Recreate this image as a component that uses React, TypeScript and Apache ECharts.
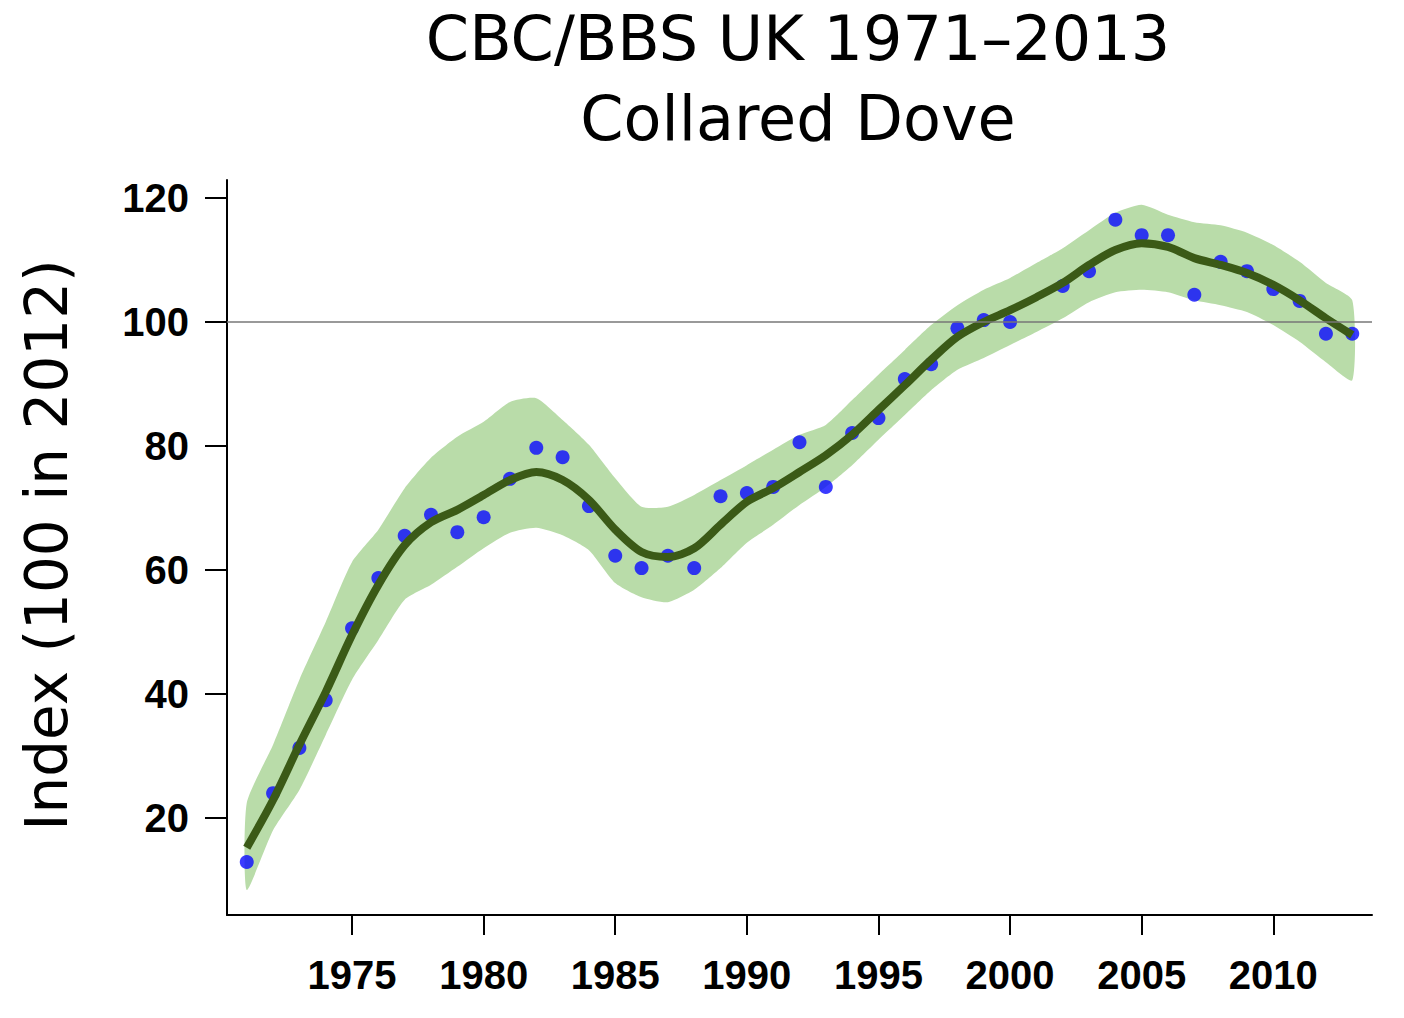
import React, { useEffect, useRef } from "react";
import * as echarts from "echarts";

const years = Array.from({ length: 43 }, (_, i) => 1971 + i);
const points: (number | null)[] = [12.9,24.0,31.3,39.0,50.6,58.7,65.5,68.9,66.1,68.5,74.7,79.7,78.2,70.3,62.3,60.3,62.3,60.3,71.9,72.4,73.4,80.6,73.4,82.1,84.5,90.8,93.2,99.0,100.3,100,null,105.8,108.2,116.5,114.0,114.0,104.4,109.7,108.2,105.3,103.4,98.1,98.1];
const trend = [15.2,22.9,31.8,40.3,49.5,57.6,64,67.7,69.7,72.1,74.5,75.8,74.5,71.3,66.5,62.9,62.1,63.5,67.3,71,73.2,75.8,78.5,81.8,85.8,89.8,93.9,97.6,100,101.9,104,106.3,109.2,111.6,112.7,112.1,110.3,109.2,107.9,106,103.5,100.6,97.9];
const upper = [22.4,31.8,42.3,51.6,61.3,66.5,73.2,78.1,81.5,83.9,87.1,87.7,84.2,80.2,74.8,70.2,70.2,72.1,74.5,76.9,79.4,81.8,83.4,87.4,91.5,95.5,99.5,102.7,105.2,107.1,109.5,111.9,114.8,117.6,118.9,117.3,116.1,115.6,114.4,112.4,109.7,106.3,103.5];
const lower = [8.4,18,24.5,33.4,42.3,48.7,55.2,57.6,60.5,63.5,66,66.8,65.6,63.2,57.9,55.6,54.8,56.8,60.3,64.4,67.3,70.5,73.4,76.9,81,85,89,92.3,94.2,96.3,98.4,100.6,103.2,104.8,105.2,104.8,103.5,102.7,101.6,99.5,96.8,93.5,90.6];
const xTicks = [1975,1980,1985,1990,1995,2000,2005,2010];
const yTicks = [20,40,60,80,100,120];

export default function App() {
  const ref = useRef<HTMLDivElement>(null);
  useEffect(() => {
    const chart = echarts.init(ref.current!, null, { renderer: "svg" });
    const lbl = { fontFamily: "Liberation Sans", fontWeight: "bold", fontSize: 40, color: "#000" };
    chart.setOption({
      animation: false,
      backgroundColor: "#fff",
      graphic: [
        { type: "text", x: 798, y: 38, style: { text: "CBC/BBS UK 1971–2013", font: "62px 'DejaVu Sans'", fill: "#000", align: "center", verticalAlign: "middle" } },
        { type: "text", x: 798, y: 118, style: { text: "Collared Dove", font: "62px 'DejaVu Sans'", fill: "#000", align: "center", verticalAlign: "middle" } },
        { type: "text", x: 47, y: 545, rotation: Math.PI / 2, style: { text: "Index (100 in 2012)", font: "58px 'DejaVu Sans'", fill: "#000", align: "center", verticalAlign: "middle" } },
      ],
      grid: { left: 227, top: 180, width: 1145, height: 735, containLabel: false, outerBoundsMode: "none" },
      xAxis: {
        type: "value", min: 1970.25, max: 2013.75,
        axisLine: { lineStyle: { color: "#000", width: 2 } },
        splitLine: { show: false },
        axisTick: { customValues: xTicks, length: 20, lineStyle: { color: "#000", width: 2 } },
        axisLabel: { ...lbl, customValues: xTicks, margin: 40, formatter: (v: number) => String(v) },
      },
      yAxis: {
        type: "value", min: 4.35, max: 122.9,
        axisLine: { show: true, lineStyle: { color: "#000", width: 2 } },
        splitLine: { show: false },
        axisTick: { show: true, customValues: yTicks, length: 22, lineStyle: { color: "#000", width: 2 } },
        axisLabel: { ...lbl, customValues: yTicks, margin: 38 },
      },
      series: [
        {
          type: "custom", silent: true, data: [0],
          renderItem: (params: any, api: any) => {
            const pts: number[][] = [];
            years.forEach((y, i) => pts.push(api.coord([y, upper[i]])));
            for (let i = years.length - 1; i >= 0; i--) pts.push(api.coord([years[i], lower[i]]));
            return { type: "polygon", shape: { points: pts, smooth: 0.2 }, style: { fill: "#b9dca9" } };
          },
          markLine: { symbol: "none", silent: true, label: { show: false }, lineStyle: { color: "#777", width: 1.5, type: "solid" }, data: [{ yAxis: 100 }] },
        },
        { type: "line", data: years.map((y, i) => [y, trend[i]]), symbol: "none", smooth: 0.3, lineStyle: { color: "#3b5a17", width: 8 } },
        { type: "scatter", data: years.map((y, i) => [y, points[i]]).filter(d => d[1] != null), symbolSize: 14, itemStyle: { color: "#0a0aff" } },
      ],
    });
    return () => chart.dispose();
  }, []);
  return <div ref={ref} style={{ position: "absolute", left: 0, top: 0, width: 1404, height: 1018 }} />;
}
